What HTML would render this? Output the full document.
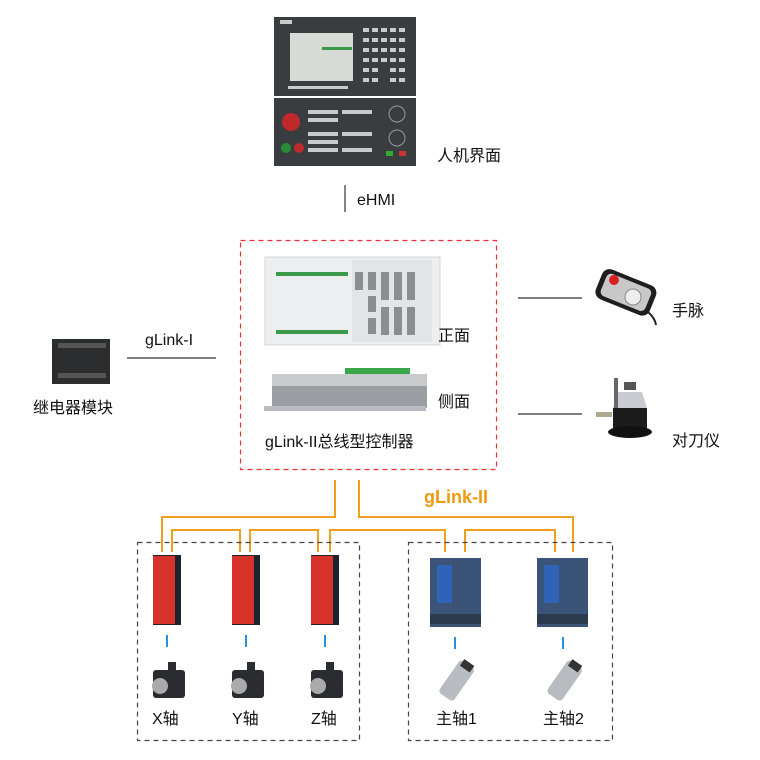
<!DOCTYPE html>
<html><head><meta charset="utf-8"><style>
html,body{margin:0;padding:0;background:#fff;}
body{width:760px;height:760px;position:relative;overflow:hidden;font-family:"Liberation Sans","Noto Sans CJK SC",sans-serif;}
.t{position:absolute;font-size:16px;color:#111;white-space:nowrap;line-height:1;}
.a{position:absolute;}
</style></head><body>
<svg class="a" style="left:0;top:0" width="760" height="760">
<!-- HMI -->
<rect x="274" y="17" width="142" height="79" fill="#3a3d40"/>
<rect x="274" y="98" width="142" height="68" fill="#3a3d40"/>
<rect x="290" y="33" width="63" height="48" fill="#d8dad6"/>
<rect x="322" y="47" width="30" height="3" fill="#3a9a4a"/>
<rect x="280" y="20" width="12" height="4" fill="#ccc"/>
<g fill="#c8cacc">
<rect x="363" y="28" width="6" height="4"/><rect x="372" y="28" width="6" height="4"/><rect x="381" y="28" width="6" height="4"/><rect x="390" y="28" width="6" height="4"/><rect x="399" y="28" width="6" height="4"/>
<rect x="363" y="38" width="6" height="4"/><rect x="372" y="38" width="6" height="4"/><rect x="381" y="38" width="6" height="4"/><rect x="390" y="38" width="6" height="4"/><rect x="399" y="38" width="6" height="4"/>
<rect x="363" y="48" width="6" height="4"/><rect x="372" y="48" width="6" height="4"/><rect x="381" y="48" width="6" height="4"/><rect x="390" y="48" width="6" height="4"/><rect x="399" y="48" width="6" height="4"/>
<rect x="363" y="58" width="6" height="4"/><rect x="372" y="58" width="6" height="4"/><rect x="381" y="58" width="6" height="4"/><rect x="390" y="58" width="6" height="4"/><rect x="399" y="58" width="6" height="4"/>
<rect x="363" y="68" width="6" height="4"/><rect x="372" y="68" width="6" height="4"/><rect x="390" y="68" width="6" height="4"/><rect x="399" y="68" width="6" height="4"/>
<rect x="363" y="78" width="6" height="4"/><rect x="372" y="78" width="6" height="4"/><rect x="390" y="78" width="6" height="4"/><rect x="399" y="78" width="6" height="4"/>
<rect x="288" y="86" width="60" height="3"/>
<rect x="308" y="110" width="30" height="4"/><rect x="308" y="118" width="30" height="4"/><rect x="308" y="132" width="30" height="4"/><rect x="308" y="140" width="30" height="4"/><rect x="308" y="148" width="30" height="4"/>
<rect x="342" y="110" width="30" height="4"/><rect x="342" y="132" width="30" height="4"/><rect x="342" y="148" width="30" height="4"/>
</g>
<circle cx="291" cy="122" r="9" fill="#c0292b"/>
<circle cx="286" cy="148" r="5" fill="#2a8a3a"/><circle cx="299" cy="148" r="5" fill="#c0292b"/>
<circle cx="397" cy="114" r="8" fill="none" stroke="#999"/><circle cx="397" cy="138" r="8" fill="none" stroke="#999"/>
<rect x="386" y="151" width="7" height="5" fill="#3a3"/><rect x="399" y="151" width="7" height="5" fill="#c33"/>
<!-- eHMI line -->
<line x1="345" y1="185" x2="345" y2="212" stroke="#333" stroke-width="1.2"/>
<!-- red dashed box -->
<rect x="240.5" y="240.5" width="256" height="229" fill="none" stroke="#e8303a" stroke-width="1.2" stroke-dasharray="5,4"/>
<!-- controller front -->
<rect x="265" y="257" width="175" height="88" fill="#eceeef" stroke="#d4d6d8"/>
<rect x="352" y="260" width="80" height="82" fill="#e2e4e6"/>
<rect x="276" y="272" width="72" height="4" fill="#3a9a4a"/>
<rect x="276" y="330" width="72" height="4" fill="#3a9a4a"/>
<g fill="#8a8e92">
<rect x="355" y="272" width="8" height="18"/><rect x="368" y="272" width="8" height="18"/><rect x="381" y="272" width="8" height="28"/><rect x="394" y="272" width="8" height="28"/><rect x="407" y="272" width="8" height="28"/>
<rect x="368" y="296" width="8" height="16"/><rect x="368" y="318" width="8" height="16"/>
<rect x="381" y="307" width="8" height="28"/><rect x="394" y="307" width="8" height="28"/><rect x="407" y="307" width="8" height="28"/>
</g>
<!-- controller side -->
<rect x="345" y="368" width="65" height="6" fill="#3aa84a"/>
<rect x="272" y="374" width="155" height="12" fill="#c8cacc"/>
<rect x="272" y="386" width="155" height="22" fill="#9a9ea2"/>
<rect x="264" y="406" width="162" height="5" fill="#b8bcc0"/>
<!-- left relay -->
<rect x="52" y="339" width="58" height="45" fill="#2b2d2f"/>
<rect x="58" y="343" width="48" height="5" fill="#555"/><rect x="58" y="373" width="48" height="5" fill="#555"/>
<line x1="127" y1="358" x2="216" y2="358" stroke="#333" stroke-width="1.2"/>
<!-- right lines -->
<line x1="518" y1="298" x2="582" y2="298" stroke="#333" stroke-width="1.2"/>
<line x1="518" y1="414" x2="582" y2="414" stroke="#333" stroke-width="1.2"/>
<!-- handwheel -->
<g transform="rotate(22 625 292)"><rect x="597" y="276" width="58" height="32" rx="8" fill="#1e1e1e"/><rect x="602" y="280" width="48" height="24" rx="5" fill="#c8c8c8"/></g>
<circle cx="614" cy="280" r="5" fill="#d82020"/><circle cx="633" cy="297" r="8" fill="#eee" stroke="#888"/>
<path d="M648 312 Q655 318 656 325" stroke="#222" stroke-width="2" fill="none"/>
<!-- tool setter -->
<rect x="624" y="382" width="12" height="8" fill="#555"/>
<path d="M618 392 L642 392 L647 408 L613 408 Z" fill="#c8ccd0"/>
<rect x="613" y="408" width="34" height="20" fill="#1c1c1c"/>
<ellipse cx="630" cy="432" rx="22" ry="6" fill="#111"/>
<rect x="596" y="412" width="16" height="5" fill="#b0a890"/>
<rect x="614" y="378" width="4" height="30" fill="#666"/>
<!-- orange lines -->
<g stroke="#f0a020" stroke-width="2" fill="none">
<polyline points="335,480 335,517 162,517 162,552"/>
<polyline points="359,480 359,517 573,517 573,552"/>
<polyline points="172,552 172,530 240,530 240,552"/>
<polyline points="250,552 250,530 318,530 318,552"/>
<polyline points="330,552 330,530 445,530 445,552"/>
<polyline points="465,552 465,530 555,530 555,552"/>
</g>
<!-- dashed boxes -->
<rect x="137.5" y="542.5" width="222" height="198" fill="none" stroke="#444" stroke-width="1.2" stroke-dasharray="5,4"/>
<rect x="408.5" y="542.5" width="204" height="198" fill="none" stroke="#444" stroke-width="1.2" stroke-dasharray="5,4"/>
<!-- red drives -->
<g>
<rect x="153" y="555" width="28" height="70" fill="#1c2430"/><rect x="153" y="556" width="22" height="68" fill="#d8332b"/>
<rect x="232" y="555" width="28" height="70" fill="#1c2430"/><rect x="232" y="556" width="22" height="68" fill="#d8332b"/>
<rect x="311" y="555" width="28" height="70" fill="#1c2430"/><rect x="311" y="556" width="22" height="68" fill="#d8332b"/>
</g>
<!-- blue drives -->
<rect x="430" y="558" width="51" height="69" fill="#3c5378"/><rect x="437" y="565" width="15" height="38" fill="#2f63b8"/><rect x="430" y="614" width="51" height="10" fill="#2c3a50"/>
<rect x="537" y="558" width="51" height="69" fill="#3c5378"/><rect x="544" y="565" width="15" height="38" fill="#2f63b8"/><rect x="537" y="614" width="51" height="10" fill="#2c3a50"/>
<!-- blue ticks -->
<g stroke="#2a8fe0" stroke-width="2">
<line x1="167" y1="635" x2="167" y2="647"/><line x1="246" y1="635" x2="246" y2="647"/><line x1="325" y1="635" x2="325" y2="647"/>
<line x1="455" y1="637" x2="455" y2="649"/><line x1="563" y1="637" x2="563" y2="649"/>
</g>
<!-- motors -->
<g fill="#2a2c30">
<rect x="153" y="670" width="32" height="28" rx="3"/><rect x="232" y="670" width="32" height="28" rx="3"/><rect x="311" y="670" width="32" height="28" rx="3"/>
<rect x="168" y="662" width="8" height="10"/><rect x="247" y="662" width="8" height="10"/><rect x="326" y="662" width="8" height="10"/>
</g>
<circle cx="160" cy="686" r="8" fill="#aaa"/><circle cx="239" cy="686" r="8" fill="#aaa"/><circle cx="318" cy="686" r="8" fill="#aaa"/>
<!-- spindles -->
<g transform="rotate(35 455 683)"><rect x="446" y="660" width="18" height="40" rx="4" fill="#b8bcc0"/><rect x="449" y="658" width="12" height="8" fill="#333"/></g>
<g transform="rotate(35 563 683)"><rect x="554" y="660" width="18" height="40" rx="4" fill="#b8bcc0"/><rect x="557" y="658" width="12" height="8" fill="#333"/></g>
</svg>
<div class="t" style="left:437px;top:149px">人机界面</div>
<div class="t" style="left:357px;top:193px">eHMI</div>
<div class="t" style="left:145px;top:333px">gLink-I</div>
<div class="t" style="left:33px;top:401px">继电器模块</div>
<div class="t" style="left:438px;top:329px">正面</div>
<div class="t" style="left:438px;top:395px">侧面</div>
<div class="t" style="left:265px;top:435px">gLink-II总线型控制器</div>
<div class="t" style="left:672px;top:304px">手脉</div>
<div class="t" style="left:672px;top:434px">对刀仪</div>
<div class="t" style="left:424px;top:488px;color:#f09a10;font-weight:bold;font-size:18px">gLink-II</div>
<div class="t" style="left:152px;top:712px">X轴</div>
<div class="t" style="left:232px;top:712px">Y轴</div>
<div class="t" style="left:311px;top:712px">Z轴</div>
<div class="t" style="left:436px;top:712px">主轴1</div>
<div class="t" style="left:543px;top:712px">主轴2</div>
</body></html>
